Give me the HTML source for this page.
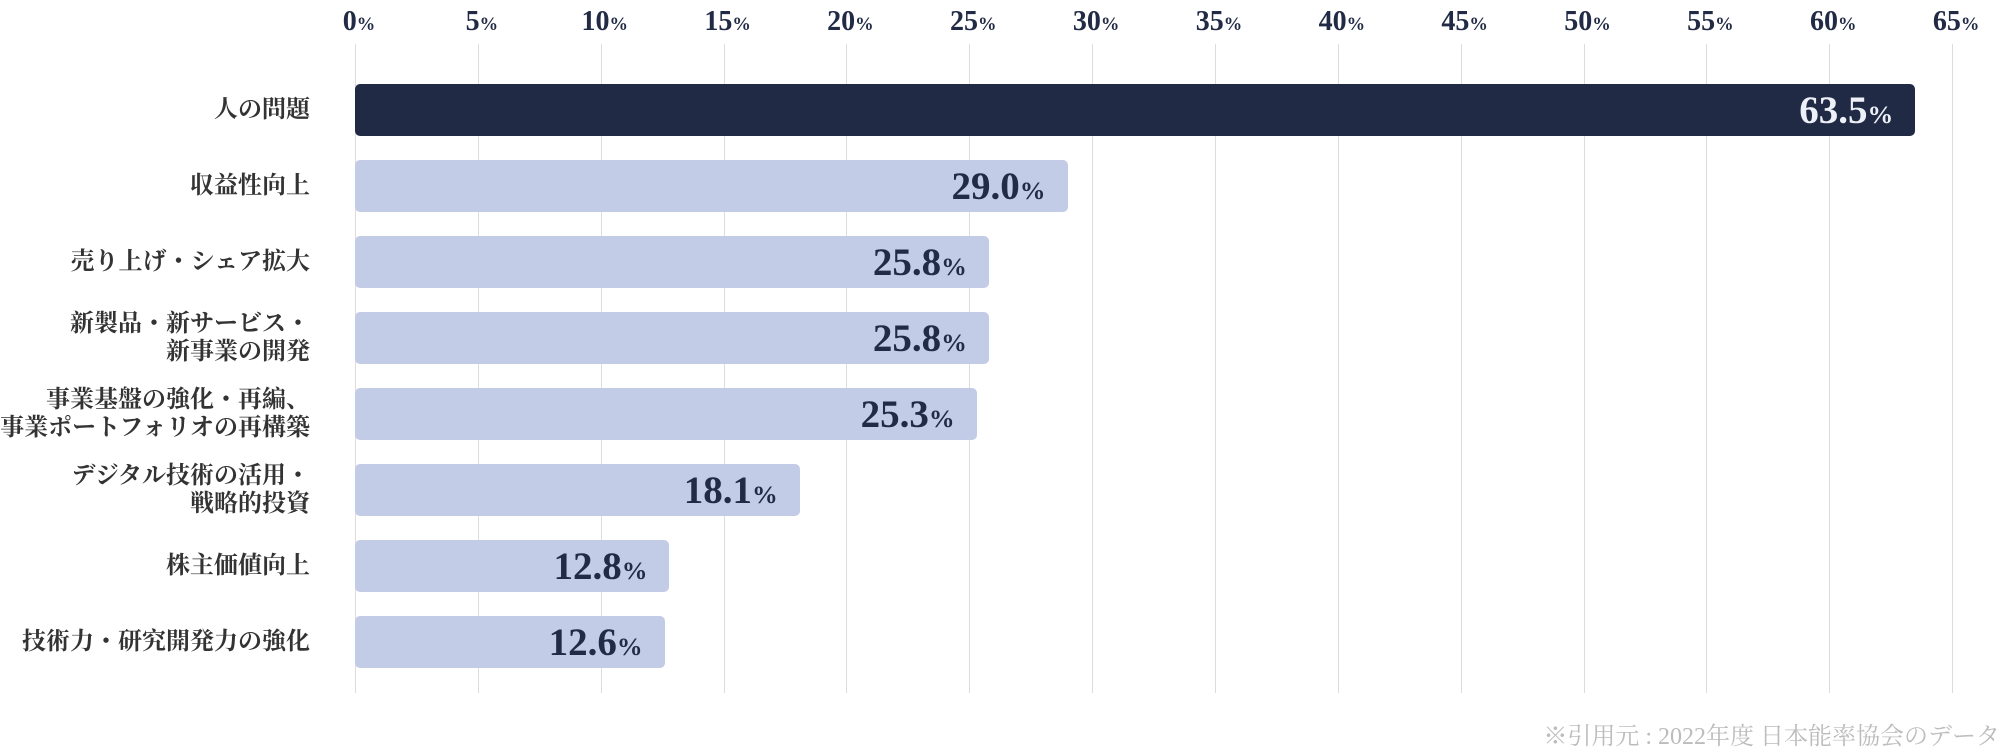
<!DOCTYPE html>
<html><head><meta charset="utf-8">
<style>
html,body{margin:0;padding:0;background:#fff;}
#wrap{position:relative;width:2000px;height:750px;overflow:hidden;font-family:"Liberation Serif","Noto Serif CJK SC",serif;}
.tick{position:absolute;top:6px;font-size:28px;color:#222b45;font-weight:bold;transform:translateX(-50%);white-space:nowrap;}
.tick small,.val small{font-size:0.66em;}
.grid{position:absolute;top:44px;height:649px;width:1px;background:#dcdcdc;}
.bar{position:absolute;height:52px;border-radius:5px;}
.val{position:absolute;font-size:39px;font-weight:bold;white-space:nowrap;line-height:54px;text-align:right;top:0;}
.cat{position:absolute;right:1690px;font-size:24px;font-weight:bold;color:#333;text-align:right;line-height:28px;white-space:nowrap;transform:translateY(-50%);}
.note{position:absolute;right:0;top:716px;font-size:24px;color:#bcbcbc;white-space:nowrap;font-family:"Liberation Serif","Noto Serif CJK JP",serif;}
</style></head>
<body>
<div id="wrap">
<div class="note">※引用元 : 2022年度 日本能率協会のデータ</div>
</div>
<script>
const categories=["人の問題","収益性向上","売り上げ・シェア拡大","新製品・新サービス・<br>新事業の開発","事業基盤の強化・再編、<br>事業ポートフォリオの再構築","デジタル技術の活用・<br>戦略的投資","株主価値向上","技術力・研究開発力の強化"];
const values=[63.5,29.0,25.8,25.8,25.3,18.1,12.8,12.6];
const ticks=[0,5,10,15,20,25,30,35,40,45,50,55,60,65];
const wrap=document.getElementById('wrap');
const x0=355,pxPer=24.57;
function xs(v){return x0+v*pxPer;}
function yc(i){return 110+i*76;}
ticks.forEach(t=>{
  const g=document.createElement('div');g.className='grid';g.style.left=Math.round(xs(t))+'px';
  
  
  wrap.appendChild(g);
  const l=document.createElement('div');l.className='tick';l.style.left=(xs(t)+4)+'px';
  l.innerHTML=t+'<small>%</small>';
  
  
  wrap.appendChild(l);
});
values.forEach((v,i)=>{
  const first=i===0;
  const b=document.createElement('div');b.className='bar';
  b.style.left=x0+'px';b.style.top=(yc(i)-26)+'px';b.style.width=(xs(v)-x0)+'px';
  b.style.background=first?'#212a45':'#c3cce6';
  
  
  wrap.appendChild(b);
  const t=document.createElement('div');t.className='val';
  t.style.right=(2000-xs(v)+22)+'px';t.style.top=(yc(i)-26)+'px';
  t.style.color=first?'#eef0f8':'#222b45';
  t.innerHTML=v.toFixed(1)+'<small>%</small>';
  
  
  wrap.appendChild(t);
  const c=document.createElement('div');c.className='cat';c.style.top=yc(i)+'px';
  c.innerHTML=categories[i];
  
  
  wrap.appendChild(c);
});
</script>
</body></html>
